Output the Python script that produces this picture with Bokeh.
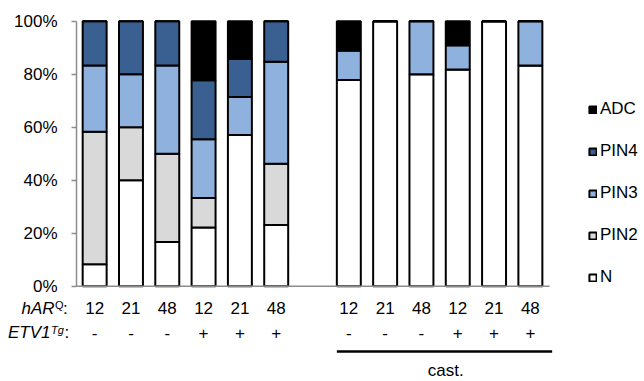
from bokeh.plotting import figure
from bokeh.models import (Range1d, FixedTicker, PrintfTickFormatter, Legend,
                          LegendItem, ColumnDataSource)
from bokeh.core.properties import value
from bokeh.embed import file_html
from bokeh.resources import INLINE

# ---- data ----
har = ["12", "21", "48", "12", "21", "48", "12", "21", "48", "12", "21", "48"]
etv1 = ["-", "-", "-", "+", "+", "+", "-", "-", "-", "+", "+", "+"]
castrated = [False] * 6 + [True] * 6

N_vals    = [8.3, 40.0, 16.7, 22.2, 57.1, 23.1, 77.8, 100.0, 80.0, 81.8, 100.0, 83.3]
PIN2_vals = [50.0, 20.0, 33.3, 11.1, 0.0, 23.1, 0.0, 0.0, 0.0, 0.0, 0.0, 0.0]
PIN3_vals = [25.0, 20.0, 33.3, 22.2, 14.3, 38.5, 11.1, 0.0, 20.0, 9.1, 0.0, 16.7]
PIN4_vals = [16.7, 20.0, 16.7, 22.2, 14.3, 15.3, 0.0, 0.0, 0.0, 0.0, 0.0, 0.0]
ADC_vals  = [0.0, 0.0, 0.0, 22.3, 14.3, 0.0, 11.1, 0.0, 0.0, 9.1, 0.0, 0.0]

stages = ["N", "PIN2", "PIN3", "PIN4", "ADC"]
colors = ["#FFFFFF", "#D9D9D9", "#8EB2DD", "#3A5F91", "#000000"]
y_ticks = [0, 20, 40, 60, 80, 100]

# x slot per bar: castrated group shifted by one empty slot
xpos = [i + (1 if c else 0) for i, c in enumerate(castrated)]

src = ColumnDataSource(dict(x=xpos, N=N_vals, PIN2=PIN2_vals, PIN3=PIN3_vals,
                            PIN4=PIN4_vals, ADC=ADC_vals, har=har, etv1=etv1))

FONT = "Liberation Sans"
FS = "17px"
GRAY = "#8C8C8C"

p = figure(frame_width=642, frame_height=380,
           x_range=Range1d(-2.593, 15.088), y_range=Range1d(-35.58, 107.81),
           output_backend="svg", toolbar_location=None, x_axis_location=None,
           min_border_left=0, min_border_right=0,
           min_border_top=0, min_border_bottom=0)
p.outline_line_color = None
p.xgrid.visible = False
p.ygrid.visible = False

renderers = p.vbar_stack(stages, x="x", width=0.66, source=src,
                         fill_color=colors, line_color="black", line_width=2)

# y axis, pinned at the left edge of the bar area
ya = p.yaxis[0]
ya.fixed_location = -0.5
ya.bounds = (0, 100)
ya.ticker = FixedTicker(ticks=y_ticks)
ya.formatter = PrintfTickFormatter(format="%d%%")
ya.axis_line_color = GRAY
ya.axis_line_width = 1.5
ya.major_tick_line_color = GRAY
ya.major_tick_line_width = 1.5
ya.major_tick_out = 5
ya.major_tick_in = 0
ya.minor_tick_line_color = None
ya.major_label_standoff = 14
ya.major_label_text_font = FONT
ya.major_label_text_font_size = FS
ya.major_label_text_color = "black"

# baseline (x axis line)
p.segment(x0=[-0.5], y0=[0], x1=[12.53], y1=[0], line_color=GRAY, line_width=1.5)

txt = dict(text_font=value(FONT), text_color="black", text_baseline="alphabetic")
R1 = -8.3   # baseline of hAR row
R2 = -17.5  # baseline of ETV1 row

# hAR labels and ETV1 signs
p.text(x="x", y=R1, text="har", source=src, text_align="center",
       text_font_size=FS, **txt)
p.text(x="x", y=R2, text="etv1", source=src, text_align="center",
       text_font_size=FS, **txt)

# row titles
p.text(x=[-1.106], y=[R1], text=["hAR"], text_font_size=FS,
       text_font_style="italic", text_align="right", **txt)
p.text(x=[-1.092], y=[R1 + 1.3], text=["Q"], text_font_size="11px",
       text_align="left", **txt)
p.text(x=[-0.872], y=[R1], text=[":"], text_font_size=FS,
       text_align="left", **txt)
p.text(x=[-1.216], y=[R2], text=["ETV1"], text_font_size=FS,
       text_font_style="italic", text_align="right", **txt)
p.text(x=[-1.202], y=[R2 + 0.9], text=["Tg"], text_font_size="11px",
       text_font_style="italic", text_align="left", **txt)
p.text(x=[-0.83], y=[R2], text=[":"], text_font_size=FS,
       text_align="left", **txt)

# castration bracket
cx = [x for x, c in zip(xpos, castrated) if c]
p.segment(x0=[min(cx) - 0.33], y0=[-24.6], x1=[max(cx) + 0.6], y1=[-24.6],
          line_color="black", line_width=2.5)
p.text(x=[(min(cx) + max(cx)) / 2 + 0.17], y=[-31.8], text=["cast."],
       text_font_size=FS, text_align="center", **txt)

# legend (top to bottom: ADC, PIN4, PIN3, PIN2, N)
items = [LegendItem(label=s, renderers=[r]) for s, r in zip(stages, renderers)][::-1]
legend = Legend(items=items, location=(588, 93), orientation="vertical",
                glyph_width=9, glyph_height=9, label_standoff=3, spacing=22,
                padding=0, margin=0, border_line_color=None,
                background_fill_alpha=0, label_text_font=FONT,
                label_text_font_size=FS, label_text_color="black")
p.add_layout(legend, "center")

open("out.html", "w").write(file_html(p, INLINE))
